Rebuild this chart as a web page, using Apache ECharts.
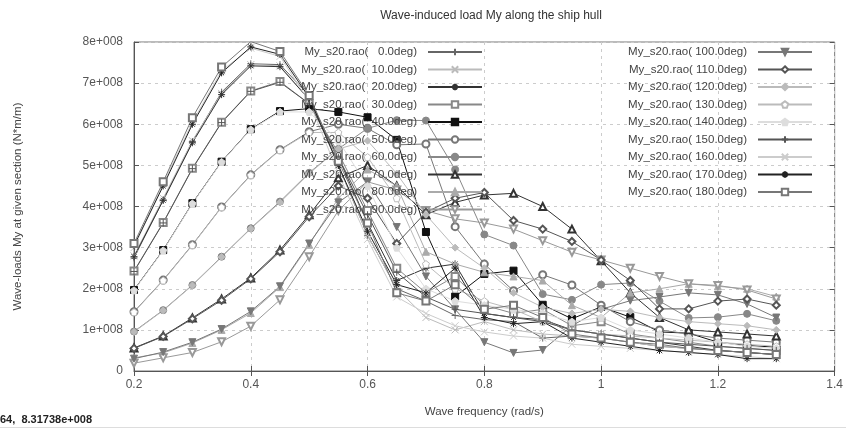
<!DOCTYPE html>
<html><head><meta charset="utf-8">
<script src="https://cdn.jsdelivr.net/npm/echarts@6/dist/echarts.min.js"></script>
<style>html,body{margin:0;padding:0;background:#fff}#c{width:846px;height:428px}</style>
</head><body><div id="c"></div>
<script>
// Wave frequency (rad/s)
const freq = [0.2,0.25,0.3,0.35,0.4,0.45,0.5,0.55,0.6,0.65,0.7,0.75,0.8,0.85,0.9,0.95,1.0,1.05,1.1,1.15,1.2,1.25,1.3];
const headings = [0,10,20,30,40,50,60,70,80,90,100,110,120,130,140,150,160,170,180];
const SCALE = 1e8; // values below are in units of 1e8 N*m/m
const my000 = [2.75,4.16,5.58,6.78,7.47,7.45,6.70,5.00,3.30,2.00,1.70,1.35,1.25,1.20,0.80,0.85,0.80,0.70,0.60,0.55,0.50,0.45,0.40];
const my010 = [2.80,4.20,5.60,6.75,7.45,7.42,6.60,5.00,3.30,2.00,1.30,1.00,1.20,1.00,0.90,0.85,0.80,0.70,0.60,0.55,0.50,0.45,0.40];
const my020 = [2.78,4.15,5.55,6.72,7.42,7.40,6.60,5.20,3.60,2.20,2.50,2.60,1.40,1.30,1.25,1.00,0.90,0.80,0.70,0.60,0.50,0.45,0.40];
const my030 = [2.43,3.61,4.93,6.05,6.81,7.04,6.50,5.30,3.90,2.50,1.90,2.30,1.60,1.40,1.50,1.10,1.20,0.90,0.80,0.70,0.60,0.55,0.50];
const my040 = [1.97,2.94,4.08,5.09,5.88,6.32,6.38,6.30,6.17,5.62,3.38,1.81,2.36,2.44,1.61,1.27,1.56,1.31,0.95,0.92,0.70,0.62,0.58];
const my050 = [1.44,2.21,3.07,3.99,4.77,5.38,5.82,6.00,5.90,5.50,5.52,3.51,2.60,1.95,2.34,2.09,1.60,1.20,1.00,0.90,0.80,0.75,0.70];
const my060 = [0.96,1.48,2.09,2.78,3.47,4.12,4.82,5.40,5.90,6.10,6.09,4.90,3.32,3.05,1.87,1.73,2.10,2.14,1.70,1.29,1.31,1.39,1.22];
const my070 = [0.56,0.85,1.29,1.75,2.26,2.94,3.80,4.70,5.00,4.50,3.80,4.10,4.28,4.32,4.00,3.45,2.68,1.90,1.30,1.00,0.95,0.90,0.85];
const my080 = [0.32,0.44,0.68,1.00,1.41,2.04,3.07,4.20,4.90,4.50,2.90,2.60,2.40,2.30,2.20,1.60,1.30,1.90,2.00,2.12,2.06,2.00,1.81];
const my090 = [0.19,0.32,0.45,0.71,1.09,1.73,2.78,3.90,4.60,4.40,3.90,3.70,3.60,3.45,3.17,2.89,2.70,2.50,2.30,2.12,2.08,1.97,1.75];
const my100 = [0.30,0.46,0.70,1.02,1.45,2.06,3.10,4.10,4.60,3.50,2.30,1.50,0.70,0.44,0.51,1.10,1.50,1.71,1.80,1.90,1.85,1.63,1.30];
const my110 = [0.55,0.84,1.27,1.72,2.24,2.90,3.75,4.50,4.20,3.10,3.86,4.20,4.34,3.66,3.45,3.15,2.70,2.20,1.51,1.51,1.70,1.75,1.60];
const my120 = [0.95,1.47,2.08,2.77,3.46,4.10,4.80,5.40,5.60,4.80,3.80,3.00,2.50,1.90,1.55,1.40,1.50,1.45,1.30,1.20,1.15,1.10,1.00];
const my130 = [1.43,2.20,3.06,3.98,4.76,5.37,5.80,5.80,5.20,4.20,2.60,2.00,1.70,1.50,1.20,1.00,0.90,0.85,0.80,0.75,0.70,0.65,0.60];
const my140 = [1.96,2.93,4.07,5.08,5.87,6.30,6.30,5.60,4.50,3.00,2.00,1.70,1.60,1.50,1.40,1.20,1.30,1.00,0.90,0.80,0.70,0.60,0.55];
const my150 = [2.42,3.60,4.92,6.04,6.80,7.02,6.50,5.20,3.80,2.40,1.80,1.50,1.40,1.30,1.20,1.00,0.90,0.80,0.70,0.65,0.60,0.55,0.50];
const my160 = [3.00,4.55,6.05,7.30,7.85,7.65,6.55,4.80,3.20,1.80,1.40,1.10,0.95,0.85,0.80,0.65,0.60,0.55,0.50,0.45,0.40,0.35,0.30];
const my170 = [3.05,4.50,6.00,7.25,7.88,7.70,6.65,5.00,3.40,2.10,1.90,2.50,1.30,1.15,1.20,0.80,0.70,0.60,0.50,0.45,0.40,0.30,0.30];
const my180 = [3.10,4.60,6.16,7.39,8.01,7.77,6.70,5.10,3.60,1.90,1.70,2.10,1.50,1.60,1.30,0.90,0.80,0.70,0.65,0.55,0.50,0.45,0.40];
const allSeries = [my000,my010,my020,my030,my040,my050,my060,my070,my080,my090,my100,my110,my120,my130,my140,my150,my160,my170,my180];
const yTicks = ['0','1e+008','2e+008','3e+008','4e+008','5e+008','6e+008','7e+008','8e+008'];

const colors = ['#666','#bbb','#333','#888','#111','#777','#888','#333','#aaa','#999','#777','#555','#bbb','#bbb','#ddd','#555','#ccc','#222','#777'];
const PLUS='path://M5 0V10M0 5H10', CROSS='path://M1 1L9 9M9 1L1 9', STAR='path://M5 0V10M0 5H10M1.5 1.5L8.5 8.5M8.5 1.5L1.5 8.5';
const PENT='path://M5 0L10 3.8L8 10H2L0 3.8Z';
// marker: [symbol, rotate, openFill]
const markers = [[PLUS,0],[CROSS,0],[STAR,0],['emptyRect',0],['rect',0],['emptyCircle',0],['circle',0],['emptyTriangle',0],['triangle',0],['emptyTriangle',180],['triangle',180],['emptyDiamond',0],['diamond',0],[PENT,0,true],[PENT,0],[PLUS,0],[CROSS,0],[STAR,0],['emptyRect',0]];

const names = headings.map(h => 'My_s20.rao( ' + h.toFixed(1).padStart(5,' ') + 'deg)');
const series = allSeries.map((arr,i) => {
  const c = colors[i], m = markers[i];
  return {
    name: names[i], type: 'line', data: freq.map((f,j) => [f, arr[j]*SCALE]),
    symbol: m[0], symbolRotate: m[1], symbolSize: 7, showSymbol: true,
    lineStyle: {color: c, width: 1},
    itemStyle: {color: m[2] ? '#fff' : c, borderColor: c, borderWidth: 1},
    emphasis: {disabled: true}, animation: false, z: 2
  };
});

const font = 'Liberation Sans, Arial, sans-serif';
const legendBase = {orient: 'vertical', top: 46, align: 'right', itemWidth: 54, itemHeight: 8, itemGap: 5.5, padding: 0,
  textStyle: {fontSize: 11.5, color: '#444', fontFamily: font, padding: [0,6,0,0]}, selectedMode: false};
const chart = echarts.init(document.getElementById('c'));
chart.setOption({
  animation: false,
  backgroundColor: '#fff',
  title: {text: 'Wave-induced load My along the ship hull', left: 486, textAlign: 'center', top: 5,
    textStyle: {fontSize: 12, fontWeight: 'normal', color: '#333', fontFamily: font}},
  grid: {left: 134, right: 8, top: 42, bottom: 57, show: true, borderColor: '#777', borderWidth: 1},
  legend: [
    Object.assign({data: names.slice(0,10), right: 363}, legendBase),
    Object.assign({data: names.slice(10), right: 33}, legendBase)
  ],
  xAxis: [
    {type: 'value', min: 0.2, max: 1.4, interval: 0.2, name: 'Wave frequency (rad/s)', nameLocation: 'middle', nameGap: 35,
      nameTextStyle: {fontSize: 11.5, color: '#444', fontFamily: font},
      axisLine: {show: true, lineStyle: {color: '#555'}}, axisTick: {inside: true, length: 5, lineStyle: {color: '#555'}},
      axisLabel: {fontSize: 12, color: '#555', fontFamily: font, margin: 8},
      splitLine: {show: true, lineStyle: {color: '#ccc', type: [3,4]}}},
    {type: 'value', position: 'top', min: 0.2, max: 1.4, interval: 0.2, axisLine: {show: false},
      axisTick: {inside: true, length: 5, lineStyle: {color: '#555'}}, axisLabel: {show: false}, splitLine: {show: false}}
  ],
  yAxis: [
    {type: 'value', min: 0, max: 8e8, interval: 1e8, name: 'Wave-loads My at given section (N*m/m)', nameLocation: 'middle', nameGap: 110, nameRotate: 90,
      nameTextStyle: {fontSize: 11.5, color: '#444', fontFamily: font},
      axisLine: {show: true, lineStyle: {color: '#555'}}, axisTick: {inside: true, length: 5, lineStyle: {color: '#555'}},
      axisLabel: {fontSize: 12, color: '#555', fontFamily: font, margin: 11, formatter: (v) => yTicks[Math.round(v/SCALE)]},
      splitLine: {show: true, lineStyle: {color: '#ccc', type: [3,4]}}},
    {type: 'value', position: 'right', min: 0, max: 8e8, interval: 1e8, axisLine: {show: false},
      axisTick: {inside: true, length: 5, lineStyle: {color: '#555'}}, axisLabel: {show: false}, splitLine: {show: false}}
  ],
  graphic: [
    {type: 'text', left: 0, top: 414, style: {text: '64,  8.31738e+008', font: 'bold 11px Liberation Sans, Arial, sans-serif', fill: '#222'}},
    {type: 'rect', shape: {x: 0, y: 427, width: 846, height: 1}, style: {fill: '#ddd'}}
  ],
  series: series
});
</script></body></html>
